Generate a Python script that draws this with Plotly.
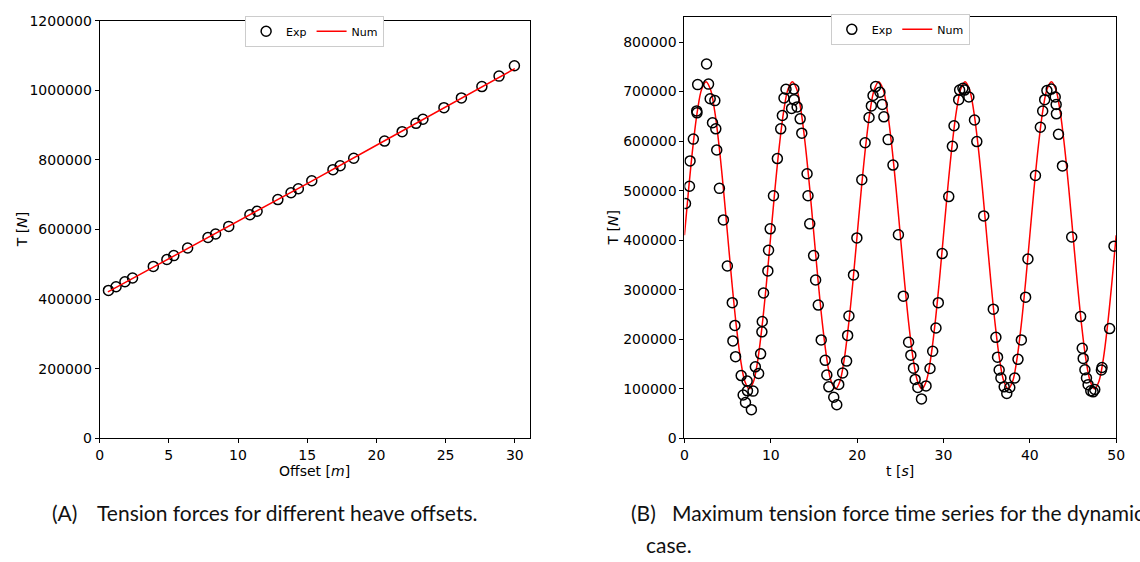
import plotly.graph_objects as go

# ---------------- Data: (A) tension vs heave offset ----------------
offset_exp = [0.64, 1.19, 1.83, 2.38, 3.88, 4.86, 5.36, 6.36, 7.83, 8.38, 9.33,
              10.86, 11.38, 12.88, 13.83, 14.36, 15.33, 16.86, 17.38, 18.36,
              20.59, 21.86, 22.86, 23.36, 24.88, 26.14, 27.62, 28.86, 29.97]
tension_exp_a = [425000, 435500, 450000, 460600, 494000, 513800, 525000, 547000,
                 577000, 587000, 609000, 642500, 652600, 686000, 705700, 717000,
                 740000, 772000, 783000, 804700, 854000, 881000, 905000, 916600,
                 950000, 978000, 1010600, 1040600, 1070500]
offset_num = [0.6, 5, 10, 15, 20, 25, 30]
tension_num_a = [421000, 516000, 623000, 732000, 842000, 952000, 1062000]

# ---------------- Data: (B) tension time series ----------------
t_exp = [0.12, 0.58, 0.65, 1.03, 1.42, 1.45, 1.53, 2.56, 2.79, 2.98, 3.52, 3.25,
         3.63, 3.74, 4.05, 4.51, 4.97, 5.54, 5.84, 5.61, 5.92, 6.57, 6.80, 7.07,
         7.26, 7.30, 7.75, 7.94, 8.21, 8.59, 8.82, 8.97, 9.01, 9.16, 9.66, 9.74,
         9.93, 10.31,
         10.76, 11.15, 11.34, 11.53, 11.76, 12.41, 12.67, 12.70, 13.05, 13.40,
         13.59, 14.20, 14.31, 14.51, 14.96, 15.19, 15.50, 15.84, 16.30, 16.49,
         16.72, 17.29, 17.64, 17.87, 18.32, 18.78, 18.90, 19.05, 19.58, 19.97,
         20.54,
         20.92, 21.38, 21.65, 21.84, 22.14, 22.64, 22.91, 23.10, 23.59, 24.15,
         24.78, 25.35, 25.96, 26.22, 26.53, 26.72, 27.03, 27.45, 27.98, 28.44,
         28.75, 29.13, 29.40, 29.85,
         30.61, 31.03, 31.22, 31.76, 31.87, 32.25, 32.44, 32.94, 33.59, 33.86,
         34.66, 35.77, 36.07, 36.26, 36.45, 36.65, 37.03, 37.33, 37.68, 38.25,
         38.63, 39.02, 39.51, 39.78,
         40.65, 41.22, 41.49, 41.72, 41.98, 42.48, 42.94, 43.05, 43.08, 43.32,
         43.78, 44.85, 45.88, 46.07, 46.18, 46.38, 46.56, 46.75, 47.06, 47.33,
         47.52, 48.29, 48.36, 49.24, 49.75]
tension_exp_b = [474000, 509000, 560000, 604000, 661000, 657000, 714000, 755600,
                 715000, 685600, 681700, 637000, 624800, 582000, 504600, 441000,
                 348000, 274000, 228000, 196700, 165000, 126800, 87600, 72500,
                 115700, 96000, 58000, 95400, 144400, 131000, 170600, 215000,
                 236000, 293500, 338000, 379700, 422900, 489600,
                 564700, 624800, 651600, 687000, 704600, 666000, 705000, 683700,
                 669000, 645000, 616000, 534000, 489600, 433000, 369000, 319600,
                 269000, 198700, 157500, 128000, 104000, 83000, 68000, 109000,
                 132000, 156000, 207800, 247000, 330000, 404600, 522000,
                 596700, 647700, 671000, 692000, 710000, 698700, 673800, 649000,
                 603000, 551600, 411000, 287000, 194000, 168000, 141800, 119000,
                 102600, 79700, 105900, 141000, 175800, 222900, 273900, 373000,
                 488000, 589500, 631000, 683700, 703000, 706500, 703000, 689000,
                 642500, 599000, 449000, 260800, 204000, 164000, 138000, 122000,
                 104000, 90800, 102600, 122000, 159500, 198700, 285000, 362000,
                 530700, 628000, 660800, 683700, 702000, 705000, 689000, 673800,
                 655000, 613700, 550000, 406500, 245800, 182000, 161400, 138600,
                 122000, 108500, 96000, 94000, 98700, 138000, 143000, 221600,
                 388000]

t_num = [0.0, 0.5, 1.0, 1.5, 2.0, 2.5, 3.0, 3.5, 4.0, 4.5, 5.0, 5.5, 6.0, 6.5, 7.0,
         7.5, 8.0, 8.5, 9.0, 9.5, 10.0, 10.5, 11.0, 11.5, 12.0, 12.5, 13.0, 13.5,
         14.0, 14.5, 15.0, 15.5, 16.0, 16.5, 17.0, 17.5, 18.0, 18.5, 19.0, 19.5,
         20.0, 20.5, 21.0, 21.5, 22.0, 22.5, 23.0, 23.5, 24.0, 24.5, 25.0, 25.5,
         26.0, 26.5, 27.0, 27.5, 28.0, 28.5, 29.0, 29.5, 30.0, 30.5, 31.0, 31.5,
         32.0, 32.5, 33.0, 33.5, 34.0, 34.5, 35.0, 35.5, 36.0, 36.5, 37.0, 37.5,
         38.0, 38.5, 39.0, 39.5, 40.0, 40.5, 41.0, 41.5, 42.0, 42.5, 43.0, 43.5,
         44.0, 44.5, 45.0, 45.5, 46.0, 46.5, 47.0, 47.5, 48.0, 48.5, 49.0, 49.5,
         50.0]
tension_num_b = [410000, 506000, 592000, 661000, 705000, 720000, 705000, 661000,
                 592000, 506000, 410000, 314000, 228000, 159000, 115000, 100000,
                 115000, 159000, 228000, 314000,
                 410000, 506000, 592000, 661000, 705000, 720000, 705000, 661000,
                 592000, 506000, 410000, 314000, 228000, 159000, 115000, 100000,
                 115000, 159000, 228000, 314000,
                 410000, 506000, 592000, 661000, 705000, 720000, 705000, 661000,
                 592000, 506000, 410000, 314000, 228000, 159000, 115000, 100000,
                 115000, 159000, 228000, 314000,
                 410000, 506000, 592000, 661000, 705000, 720000, 705000, 661000,
                 592000, 506000, 410000, 314000, 228000, 159000, 115000, 100000,
                 115000, 159000, 228000, 314000,
                 410000, 506000, 592000, 661000, 705000, 720000, 705000, 661000,
                 592000, 506000, 410000, 314000, 228000, 159000, 115000, 100000,
                 115000, 159000, 228000, 314000,
                 410000]

xticks_a = [0, 5, 10, 15, 20, 25, 30]
yticks_a = [0, 200000, 400000, 600000, 800000, 1000000, 1200000]
xticks_b = [0, 10, 20, 30, 40, 50]
yticks_b = [0, 100000, 200000, 300000, 400000, 500000, 600000, 700000, 800000]

# ---------------- Layout helpers (pixel geometry) ----------------
W, H = 1140, 562
def px_x(p):
    return p / W
def px_y(p):
    return 1 - p / H

TICK_FONT = dict(family="DejaVu Sans", size=14, color="black")
LEG_FONT = dict(family="DejaVu Sans", size=11, color="black")
CAP_FONT = dict(family="Lato", size=21, color="#111111")

marker_style = dict(symbol="circle-open", size=10, color="black",
                    line=dict(color="black", width=1.5))

fig = go.Figure()
fig.add_trace(go.Scatter(x=offset_exp, y=tension_exp_a, mode="markers", name="Exp",
                         marker=marker_style, xaxis="x", yaxis="y", legend="legend"))
fig.add_trace(go.Scatter(x=offset_num, y=tension_num_a, mode="lines", name="Num",
                         line=dict(color="#ff0000", width=1.5), xaxis="x", yaxis="y",
                         legend="legend"))
fig.add_trace(go.Scatter(x=t_num, y=tension_num_b, mode="lines", name="Num",
                         line=dict(color="#ff0000", width=1.5, shape="spline"),
                         xaxis="x2", yaxis="y2", legend="legend2", legendrank=2))
fig.add_trace(go.Scatter(x=t_exp, y=tension_exp_b, mode="markers", name="Exp",
                         marker=marker_style, xaxis="x2", yaxis="y2", legend="legend2",
                         legendrank=1))

ax_common = dict(showline=True, linecolor="black", linewidth=1, mirror=True,
                 ticks="outside", ticklen=4, tickwidth=1, tickcolor="black",
                 showgrid=False, zeroline=False, tickfont=TICK_FONT)

L_x0, L_x1, L_y0, L_y1 = 96.7, 531.7, 443, 13
R_x0, R_x1, R_y0, R_y1 = 688.3, 1125, 443, 9

fig.update_layout(
    width=W, height=H, margin=dict(l=0, r=0, t=0, b=0),
    paper_bgcolor="white", plot_bgcolor="white",
    xaxis=dict(domain=[px_x(L_x0), px_x(L_x1)], range=[0, 31.07], tickvals=xticks_a,
               anchor="y", **ax_common),
    yaxis=dict(domain=[px_y(L_y0), px_y(L_y1)], range=[0, 1200000], tickvals=yticks_a,
               tickformat="d", anchor="x", **ax_common),
    xaxis2=dict(domain=[px_x(R_x0), px_x(R_x1)], range=[0, 50], tickvals=xticks_b,
                anchor="y2", **ax_common),
    yaxis2=dict(domain=[px_y(R_y0), px_y(R_y1)], range=[0, 851000], tickvals=yticks_b,
                tickformat="d", anchor="x2", **ax_common),
    legend=dict(orientation="h", x=px_x((L_x0 + L_x1) / 2), xanchor="center",
                y=px_y(8), yanchor="top", font=LEG_FONT, bgcolor="white",
                bordercolor="#cccccc", borderwidth=1, itemwidth=30),
    legend2=dict(orientation="h", x=px_x((R_x0 + R_x1) / 2), xanchor="center",
                 y=px_y(6), yanchor="top", font=LEG_FONT, bgcolor="white",
                 bordercolor="#cccccc", borderwidth=1, itemwidth=30,
                 traceorder="normal"),
    showlegend=True,
)

def ann(text, x, y, font, xanchor="center", yanchor="middle", angle=0):
    fig.add_annotation(text=text, x=px_x(x), y=px_y(y), xref="paper", yref="paper",
                       showarrow=False, xanchor=xanchor, yanchor=yanchor,
                       font=font, textangle=angle)

# axis titles
ann("T [<i>N</i>]", 18, 228, TICK_FONT, angle=-90)
ann("Offset [<i>m</i>]", 314, 477, TICK_FONT)
ann("T [<i>N</i>]", 616, 226, TICK_FONT, angle=-90)
ann("t [<i>s</i>]", 906, 477, TICK_FONT)

# captions
ann("(A)", 47, 519, CAP_FONT, xanchor="left")
ann("Tension forces for different heave offsets.", 92, 519, CAP_FONT, xanchor="left")
ann("(B)", 632, 519, CAP_FONT, xanchor="left")
ann("Maximum tension force time series for the dynamic", 674, 519, CAP_FONT,
    xanchor="left")
ann("case.", 647, 552, CAP_FONT, xanchor="left")

fig.write_html("out.html")
